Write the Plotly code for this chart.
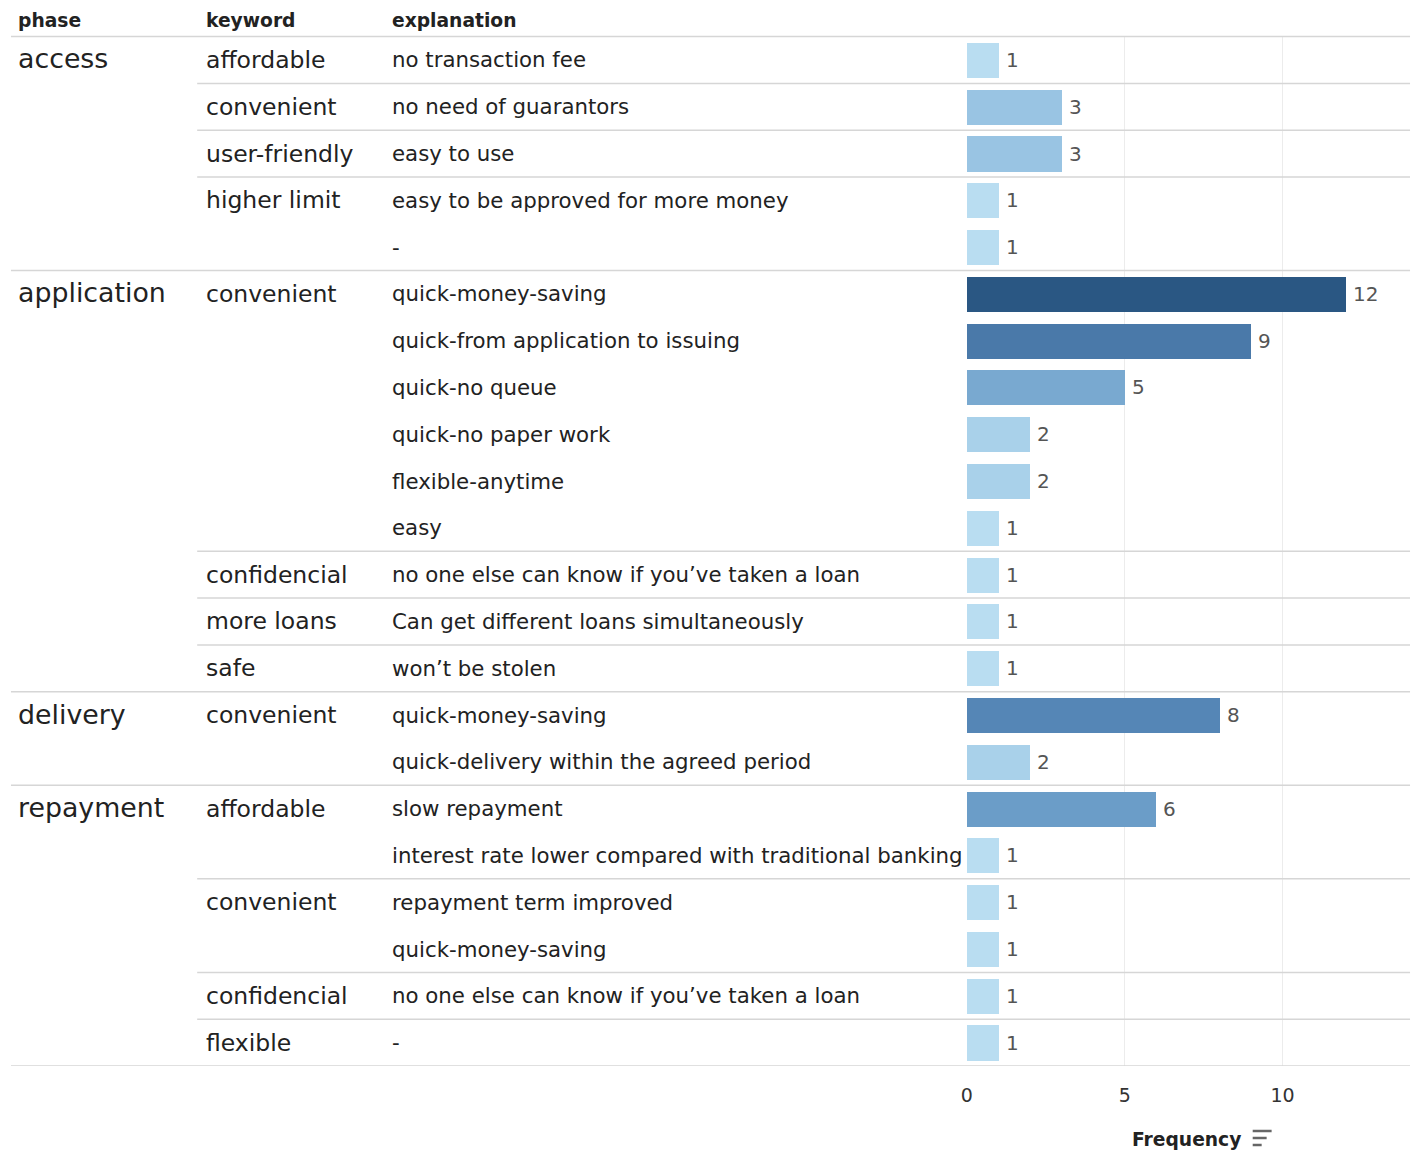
import plotly.graph_objects as go

# ---- data -------------------------------------------------------------
phases = ["access"] * 5 + ["application"] * 9 + ["delivery"] * 2 + ["repayment"] * 6
keywords = [
    "affordable", "convenient", "user-friendly", "higher limit", "higher limit",
    "convenient", "convenient", "convenient", "convenient", "convenient", "convenient",
    "confidencial", "more loans", "safe",
    "convenient", "convenient",
    "affordable", "affordable", "convenient", "convenient", "confidencial", "flexible",
]
explanations = [
    "no transaction fee",
    "no need of guarantors",
    "easy to use",
    "easy to be approved for more money",
    "-",
    "quick-money-saving",
    "quick-from application to issuing",
    "quick-no queue",
    "quick-no paper work",
    "flexible-anytime",
    "easy",
    "no one else can know if you’ve taken a loan",
    "Can get different loans simultaneously",
    "won’t be stolen",
    "quick-money-saving",
    "quick-delivery within the agreed period",
    "slow repayment",
    "interest rate lower compared with traditional banking",
    "repayment term improved",
    "quick-money-saving",
    "no one else can know if you’ve taken a loan",
    "-",
]
frequency = [1, 3, 3, 1, 1, 12, 9, 5, 2, 2, 1, 1, 1, 1, 8, 2, 6, 1, 1, 1, 1, 1]
column_headers = ["phase", "keyword", "explanation"]
axis_ticks = [0, 5, 10]

# ---- layout constants (pixels) ---------------------------------------
W, H = 1416, 1151
TOP, BOTTOM = 36.6, 1066.0
LEFT_BAR, RIGHT = 965.0, 1410.0
COL_X = [10, 199, 386]
FONT = "DejaVu Sans"
INK = "#222222"
RULE = "#d6d6d6"

n = len(frequency)
rows = list(range(n))


def px(x):
    return x / W


def py(y):
    return 1 - y / H


# sequential blue ramp keyed on frequency
blues = [
    [0.0, "#b9ddf1"],
    [1 / 11, "#a9d1ea"],
    [2 / 11, "#99c4e3"],
    [4 / 11, "#79a9d0"],
    [5 / 11, "#6b9dc8"],
    [7 / 11, "#5586b6"],
    [8 / 11, "#4a79a9"],
    [1.0, "#2a5783"],
]

fig = go.Figure()
fig.add_trace(
    go.Bar(
        x=frequency,
        y=rows,
        orientation="h",
        width=0.75,
        marker=dict(
            color=frequency,
            colorscale=blues,
            cmin=1,
            cmax=12,
            line=dict(width=0),
        ),
        text=[f"\u2009{v}" for v in frequency],
        textposition="outside",
        textfont=dict(family=FONT, size=20, color="#555555"),
        cliponaxis=False,
        hoverinfo="skip",
    )
)

annotations = []
shapes = []

# column headers
for label, x in zip(column_headers, COL_X):
    annotations.append(dict(
        x=px(x), y=py(20), xref="paper", yref="paper", text=f"<b>{label}</b>",
        showarrow=False, xanchor="left", yanchor="middle",
        font=dict(family=FONT, size=18.7, color=INK),
    ))

# header rule
shapes.append(dict(type="line", xref="paper", yref="paper",
                   x0=px(5), x1=px(RIGHT), y0=py(TOP), y1=py(TOP),
                   line=dict(color=RULE, width=1.5)))

for i in rows:
    new_phase = i == 0 or phases[i] != phases[i - 1]
    new_kw = new_phase or keywords[i] != keywords[i - 1]
    if new_phase:
        annotations.append(dict(
            x=px(COL_X[0]), y=i, xref="paper", yref="y", text=phases[i],
            showarrow=False, xanchor="left", yanchor="middle", yshift=1,
            font=dict(family=FONT, size=26.8, color=INK),
        ))
    if new_kw:
        annotations.append(dict(
            x=px(COL_X[1]), y=i, xref="paper", yref="y", text=keywords[i],
            showarrow=False, xanchor="left", yanchor="middle",
            font=dict(family=FONT, size=23.5, color=INK),
        ))
    annotations.append(dict(
        x=px(COL_X[2]), y=i, xref="paper", yref="y", text=explanations[i],
        showarrow=False, xanchor="left", yanchor="middle",
        font=dict(family=FONT, size=21.3, color=INK),
    ))
    # row separators: full width at phase breaks, from keyword column otherwise
    if i > 0 and new_kw:
        x0 = 5 if new_phase else 192
        shapes.append(dict(type="line", xref="paper", yref="y",
                           x0=px(x0), x1=px(RIGHT), y0=i - 0.5, y1=i - 0.5,
                           line=dict(color=RULE, width=1.5)))

# bottom rule
shapes.append(dict(type="line", xref="paper", yref="y",
                   x0=px(5), x1=px(RIGHT), y0=n - 0.5, y1=n - 0.5,
                   line=dict(color=RULE, width=1.5)))

# axis title and sort glyph
annotations.append(dict(
    x=px(1186), y=py(1139), xref="paper", yref="paper", text="<b>Frequency</b>",
    showarrow=False, xanchor="center", yanchor="middle",
    font=dict(family=FONT, size=18.7, color=INK),
))
for k, (x0, x1) in enumerate([(1252, 1271), (1252, 1266), (1252, 1261)]):
    yy = 1131 + k * 7
    shapes.append(dict(type="line", xref="paper", yref="paper",
                       x0=px(x0), x1=px(x1), y0=py(yy), y1=py(yy),
                       line=dict(color="#666666", width=2.5)))

x_max = (RIGHT - LEFT_BAR) / ((1282 - LEFT_BAR) / 10)

fig.update_layout(
    width=W,
    height=H,
    margin=dict(l=0, r=0, t=0, b=0),
    paper_bgcolor="white",
    plot_bgcolor="white",
    showlegend=False,
    bargap=0,
    xaxis=dict(
        domain=[px(LEFT_BAR), px(RIGHT)],
        range=[0, x_max],
        tickvals=axis_ticks,
        ticktext=[str(t) for t in axis_ticks],
        showgrid=True,
        gridcolor="#ececec",
        gridwidth=1,
        zeroline=False,
        showline=False,
        ticks="outside",
        ticklen=12,
        tickcolor="rgba(0,0,0,0)",
        tickfont=dict(family=FONT, size=19, color="#333333"),
    ),
    yaxis=dict(
        domain=[py(BOTTOM), py(TOP)],
        range=[n - 0.5, -0.5],
        showticklabels=False,
        showgrid=False,
        zeroline=False,
        showline=False,
    ),
    annotations=annotations,
    shapes=shapes,
)

fig.write_html("out.html")
